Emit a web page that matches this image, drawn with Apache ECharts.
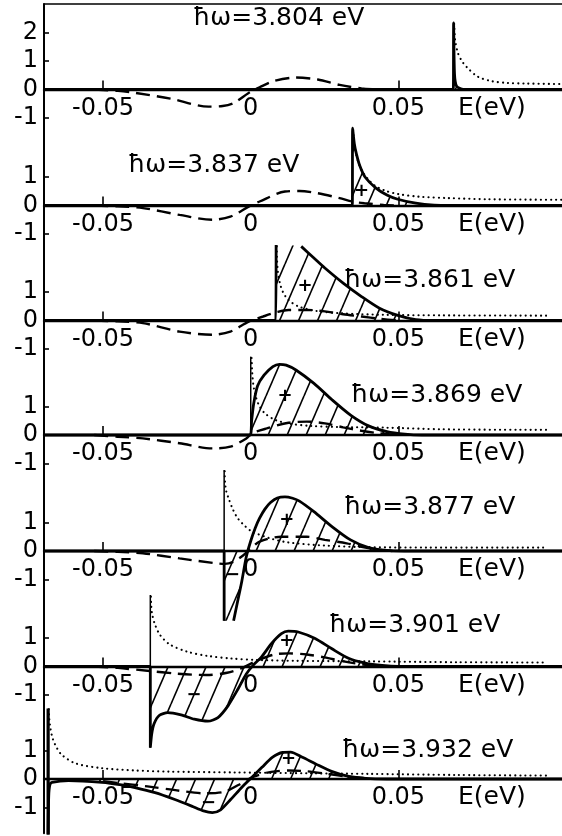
<!DOCTYPE html>
<html>
<head>
<meta charset="utf-8">
<script src="https://cdn.jsdelivr.net/npm/echarts@6/dist/echarts.min.js"></script>
<style>
  html, body { margin: 0; padding: 0; background: #fff; }
  #chart { width: 562px; height: 836px; }
</style>
</head>
<body>
<div id="chart"></div>
<script>
// Photon energies of the seven stacked spectra (top to bottom)
const photonEnergies = ['3.804', '3.837', '3.861', '3.869', '3.877', '3.901', '3.932'];

// Axis tick values
const energyTicks = [-0.05, 0.05];
const energyLabels = [-0.05, 0, 0.05];
const valueTicksTop = [-1, 0, 1, 2];
const valueTicks = [-1, 0, 1];

// Solid curves: [E (eV), value]; null marks a break in the drawn line
const solid1 = [[-0.07,0],[0.0675,0],[0.0686,0],[0.0687,2.34],[0.069,0.55],[0.0697,0.12],[0.072,0],[0.1054,0]];
const solid2 = [[-0.07,0],[0.033,0],[0.0344,0],[0.0345,2.71],[0.0351,2.15],[0.0358,1.8],[0.0369,1.4],[0.0387,1.0],[0.0424,0.61],[0.0461,0.37],[0.0498,0.22],[0.0559,0.08],[0.0621,0.01],[0.068,0],[0.1054,0]];
const solid3 = [[-0.07,0],[0.0072,0],[0.0085,0],[0.0086,2.65],null,[0.0171,2.6],[0.0214,2.19],[0.0251,1.84],[0.0313,1.31],[0.0375,0.84],[0.0436,0.43],[0.0498,0.18],[0.0559,0.03],[0.062,0],[0.1054,0]];
const solid4 = [[-0.07,0],[-0.003,0],[-0.0002,0],[0.0003,0.5],[0.001,1.1],[0.0023,1.72],[0.0045,2.1],[0.0075,2.4],[0.0097,2.48],[0.012,2.45],[0.0153,2.28],[0.0214,1.81],[0.0276,1.23],[0.0338,0.7],[0.0399,0.32],[0.0461,0.12],[0.0522,0.03],[0.058,0],[0.1054,0]];
const solid5 = [[-0.07,0],[-0.0105,0],[-0.009,0],[-0.009,-2.45],null,[-0.0058,-2.45],[-0.0045,-1.8],[-0.003,-1.05],[-0.0015,-0.2],[0,0.35],[0.0015,0.8],[0.003,1.15],[0.0048,1.47],[0.0067,1.7],[0.009,1.86],[0.0116,1.9],[0.0142,1.85],[0.0165,1.75],[0.0214,1.38],[0.0276,0.85],[0.0338,0.39],[0.0399,0.12],[0.0461,0.02],[0.052,0],[0.1054,0]];
const solid6 = [[-0.07,0],[-0.036,0],[-0.034,0],[-0.034,-2.85],[-0.0335,-2.35],[-0.0327,-2.0],[-0.031,-1.72],[-0.0281,-1.62],[-0.0236,-1.7],[-0.0191,-1.85],[-0.0145,-1.92],[-0.0111,-1.79],[-0.0077,-1.38],[-0.0043,-0.79],[-0.0015,-0.26],[0.0008,0.04],[0.0036,0.33],[0.007,0.8],[0.0104,1.15],[0.0127,1.24],[0.0161,1.21],[0.0218,0.98],[0.0275,0.62],[0.0331,0.29],[0.0388,0.12],[0.0445,0.035],[0.05,0],[0.1054,0]];
const solid7 = [[-0.0686,-1.95],[-0.0684,-0.6],[-0.068,-0.2],[-0.0673,-0.12],[-0.0617,-0.06],[-0.0504,-0.12],[-0.0437,-0.21],[-0.0392,-0.3],[-0.0324,-0.48],[-0.0257,-0.72],[-0.02,-0.95],[-0.016,-1.12],[-0.013,-1.18],[-0.0102,-1.08],[-0.0068,-0.72],[-0.003,-0.29],[-0.0002,0],[0.0038,0.41],[0.0073,0.76],[0.0108,0.93],[0.0135,0.94],[0.0175,0.76],[0.022,0.53],[0.0276,0.26],[0.0332,0.09],[0.039,0.02],[0.046,0],[0.1054,0]];

// Dashed curves
const dashed1 = [[-0.053,0],[-0.045,-0.05],[-0.039,-0.12],[-0.0272,-0.32],[-0.0143,-0.6],[-0.0095,-0.58],[-0.0057,-0.47],[-0.0007,-0.12],[0.003,0.08],[0.0079,0.3],[0.0153,0.42],[0.0227,0.35],[0.0301,0.16],[0.0375,0.04],[0.043,0]];
const dashed2 = [[-0.053,0],[-0.045,-0.03],[-0.0365,-0.09],[-0.0241,-0.33],[-0.013,-0.5],[-0.0069,-0.39],[-0.0007,-0.04],[0.003,0.14],[0.0116,0.49],[0.0165,0.51],[0.0227,0.43],[0.0301,0.26],[0.0344,0.14],[0.0385,0.08],[0.045,0.02],[0.05,0]];
const dashed3 = [[-0.053,0],[-0.045,-0.03],[-0.0365,-0.09],[-0.0241,-0.39],[-0.013,-0.5],[-0.0069,-0.39],[-0.0007,-0.04],[0.0042,0.14],[0.0091,0.3],[0.0128,0.37],[0.019,0.37],[0.0251,0.32],[0.0313,0.22],[0.0375,0.14],[0.0436,0.06],[0.05,0]];
const dashed4 = [[-0.053,0],[-0.045,-0.06],[-0.0365,-0.12],[-0.0241,-0.29],[-0.013,-0.47],[-0.0069,-0.41],[-0.0015,-0.12],[0.0005,0.06],[0.0054,0.23],[0.0128,0.43],[0.019,0.47],[0.0251,0.41],[0.0313,0.27],[0.0375,0.15],[0.0436,0.06],[0.05,0]];
const dashed5 = [[-0.053,0],[-0.045,-0.03],[-0.0365,-0.08],[-0.0241,-0.26],[-0.0118,-0.43],[-0.0088,-0.45],[-0.0057,-0.37],[-0.0025,-0.15],[0,0.08],[0.003,0.33],[0.0104,0.5],[0.019,0.5],[0.0251,0.39],[0.0325,0.27],[0.0375,0.15],[0.0424,0.06],[0.048,0]];
const dashed6 = [[-0.053,0],[-0.045,-0.05],[-0.035,-0.15],[-0.025,-0.25],[-0.015,-0.3],[-0.008,-0.22],[-0.003,-0.06],[0.002,0.2],[0.008,0.42],[0.013,0.46],[0.019,0.42],[0.025,0.32],[0.031,0.19],[0.038,0.07],[0.045,0]];
const dashed7 = [[-0.05,-0.08],[-0.045,-0.14],[-0.035,-0.26],[-0.025,-0.4],[-0.016,-0.5],[-0.009,-0.45],[-0.004,-0.2],[0.001,0.08],[0.007,0.25],[0.013,0.3],[0.019,0.27],[0.026,0.18],[0.033,0.08],[0.04,0.02]];

// Dotted curves
const dotted1 = [[0.0689,2.3],[0.0692,1.75],[0.0701,1.3],[0.0715,1.0],[0.0732,0.78],[0.0769,0.45],[0.0817,0.29],[0.0868,0.23],[0.0929,0.21],[0.1054,0.19]];
const dotted2 = [[0.0347,2.65],[0.0349,2.3],[0.0354,1.95],[0.0362,1.6],[0.0375,1.25],[0.0395,0.95],[0.042,0.7],[0.0455,0.52],[0.05,0.4],[0.057,0.31],[0.067,0.26],[0.08,0.22],[0.1054,0.2]];
const dotted3 = [[0.0088,2.6],[0.0089,2.15],[0.0092,1.7],[0.0099,1.3],[0.011,0.98],[0.0128,0.72],[0.016,0.5],[0.022,0.34],[0.031,0.25],[0.045,0.2],[0.065,0.18],[0.1,0.17]];
const dotted4 = [[0.0003,2.7],[0.0005,2.2],[0.0009,1.75],[0.0017,1.35],[0.003,1.0],[0.005,0.74],[0.0085,0.52],[0.013,0.4],[0.02,0.32],[0.03,0.28],[0.045,0.26],[0.065,0.2],[0.1,0.18]];
const dotted5 = [[-0.0088,2.8],[-0.0087,2.4],[-0.0083,2.1],[-0.0075,1.85],[-0.006,1.45],[-0.0044,1.15],[-0.002,0.88],[0.0005,0.68],[0.0067,0.44],[0.0128,0.3],[0.0251,0.19],[0.0375,0.14],[0.06,0.12],[0.099,0.12]];
const dotted6 = [[-0.0338,2.45],[-0.0337,2.15],[-0.0334,1.85],[-0.0325,1.5],[-0.0308,1.12],[-0.0275,0.78],[-0.0215,0.52],[-0.0145,0.37],[-0.0066,0.28],[0.002,0.23],[0.015,0.2],[0.04,0.18],[0.07,0.15],[0.1,0.14]];
const dotted7 = [[-0.0684,2.45],[-0.0682,2.1],[-0.0678,1.76],[-0.067,1.4],[-0.0657,1.1],[-0.064,0.85],[-0.0594,0.55],[-0.0504,0.38],[-0.0392,0.3],[-0.0279,0.26],[-0.0054,0.23],[0.02,0.2],[0.0397,0.18],[0.07,0.14],[0.1,0.12]];

// Threshold edges: [E, top, bottom]
const edges = [null, null, null, [0, 2.75, 0], [-0.009, 2.84, -2.45], [-0.034, 2.51, -2.85], [-0.0686, 2.47, -1.95]];

// Sign marks inside the hatched areas: [E, value, sign]
const signs = [
  [],
  [[0.0375, 0.49, '+']],
  [[0.0184, 1.19, '+']],
  [[0.0116, 1.35, '+']],
  [[0.0122, 1.09, '+'], [-0.0062, -0.85, '−']],
  [[0.0122, 0.88, '+'], [-0.0192, -1.0, '−']],
  [[0.0128, 0.68, '+'], [-0.0143, -0.84, '−']]
];

const solids = [solid1, solid2, solid3, solid4, solid5, solid6, solid7];
const dasheds = [dashed1, dashed2, dashed3, dashed4, dashed5, dashed6, dashed7];
const dotteds = [dotted1, dotted2, dotted3, dotted4, dotted5, dotted6, dotted7];

// Layout
const LEFT = 44;
const UNIT = 28.5;
const zeroY = [89.5, 205.5, 320.5, 435, 551, 666.5, 779];
const yMin = [-2, -2, -2, -2, -2, -2, -1.9];
const Y_MAX = 3;
const X_MIN = -0.07, X_MAX = 0.1054;
const titlePos = [[193, 18], [128, 165], [344, 280], [351, 395], [344, 507], [329, 625], [342, 750]];
const edgeWidth = [1.5, 1.5, 1.5, 1.5, 1.5, 1.5, 3.2];
const FONT = 'DejaVu Sans';
const INK = '#000';

function hatchPattern() {
  const w = 19, h = 44;
  const c = document.createElement('canvas');
  c.width = w; c.height = h;
  const g = c.getContext('2d');
  g.strokeStyle = INK;
  g.lineWidth = 1.6;
  for (const dx of [-w, 0, w]) {
    g.beginPath();
    g.moveTo(dx, h);
    g.lineTo(dx + w, 0);
    g.stroke();
  }
  return c;
}
const hatch = { image: hatchPattern(), repeat: 'repeat' };

function segments(arr) {
  const out = [[]];
  arr.forEach(p => { if (p === null) out.push([]); else out[out.length - 1].push(p); });
  return out.filter(s => s.length);
}

const grids = [], xAxes = [], yAxes = [], series = [];

zeroY.forEach((z, i) => {
  grids.push({ left: LEFT, right: 0, top: z - Y_MAX * UNIT, height: (Y_MAX - yMin[i]) * UNIT });
  // energy axis drawn along the zero line of each spectrum
  xAxes.push({
    type: 'value', gridIndex: i, min: X_MIN, max: X_MAX,
    position: 'bottom', offset: yMin[i] * UNIT,
    axisLine: { show: true, onZero: false, lineStyle: { color: INK, width: 2.4 } },
    axisTick: { show: true, inside: true, length: 9, customValues: energyTicks, lineStyle: { color: INK, width: 1.6 } },
    axisLabel: {
      show: true, customValues: energyLabels, margin: 7, color: INK, fontSize: 24, fontFamily: FONT,
      formatter: v => (v === 0 ? '0' : v.toFixed(2))
    },
    splitLine: { show: false },
    name: 'E(eV)', nameLocation: 'end', nameGap: -104,
    nameTextStyle: { color: INK, fontSize: 25, fontFamily: FONT, align: 'left', verticalAlign: 'top', padding: [6, 0, 0, 0] }
  });
  yAxes.push({
    type: 'value', gridIndex: i, min: yMin[i], max: Y_MAX,
    axisLine: { show: true, onZero: false, lineStyle: { color: INK, width: 2 } },
    axisTick: { show: true, inside: true, length: 5, customValues: i === 0 ? valueTicksTop : valueTicks, lineStyle: { color: INK, width: 1.6 } },
    axisLabel: {
      show: true, customValues: i === 0 ? valueTicksTop : valueTicks, margin: 6, color: INK, fontSize: 24, fontFamily: FONT,
      formatter: v => (v < 0 ? '-' + Math.abs(v) : String(v))
    },
    splitLine: { show: false }
  });

  const common = { xAxisIndex: i, yAxisIndex: i, symbol: 'none', clip: false, silent: true, animation: false };

  // hatched area between the solid curve and zero
  series.push(Object.assign({}, common, {
    type: 'line', smooth: 0.25, z: 1,
    data: solids[i].filter(p => p !== null),
    lineStyle: { width: 0, opacity: 0 },
    areaStyle: { color: hatch, opacity: 1, origin: 0 }
  }));
  // dashed curve
  series.push(Object.assign({}, common, {
    type: 'line', smooth: 0.3, z: 3, data: dasheds[i],
    lineStyle: { color: INK, width: 2.4, type: [14, 7] }
  }));
  // dotted curve
  series.push(Object.assign({}, common, {
    type: 'line', smooth: 0.3, z: 3, data: dotteds[i],
    lineStyle: { color: INK, width: 2.1, type: [0.1, 5], cap: 'round' }
  }));
  // threshold edge
  if (edges[i]) {
    const [e, top, bottom] = edges[i];
    series.push(Object.assign({}, common, {
      type: 'line', z: 3, data: [[e, top], [e, bottom]],
      lineStyle: { color: INK, width: edgeWidth[i] }
    }));
  }
  // solid curve
  segments(solids[i]).forEach(seg => {
    series.push(Object.assign({}, common, {
      type: 'line', smooth: 0.25, z: 4, data: seg,
      lineStyle: { color: INK, width: 2.8 }
    }));
  });
  // sign marks
  if (signs[i].length) {
    series.push(Object.assign({}, common, {
      type: 'scatter', z: 5, symbol: 'circle', symbolSize: 2,
      itemStyle: { color: 'rgba(0,0,0,0)' },
      data: signs[i].map(s => ({ value: [s[0], s[1]], label: { formatter: s[2] } })),
      label: { show: true, position: 'inside', color: INK, opacity: 1, fontSize: 18, fontWeight: 'bold', fontFamily: FONT }
    }));
  }
});

// top frame line above the first spectrum
xAxes.push({
  type: 'value', gridIndex: 0, position: 'top', min: X_MIN, max: X_MAX,
  axisLine: { show: true, onZero: false, lineStyle: { color: INK, width: 1.5 } },
  axisTick: { show: false }, axisLabel: { show: false }, splitLine: { show: false }
});

const titles = photonEnergies.map((e, i) => ({
  type: 'text', x: titlePos[i][0], y: titlePos[i][1], silent: true,
  style: { text: 'ħω=' + e + ' eV', fill: INK, fontSize: 25, fontFamily: FONT, verticalAlign: 'middle' }
}));

const chart = echarts.init(document.getElementById('chart'), null, { renderer: 'canvas' });
chart.setOption({
  animation: false,
  backgroundColor: '#fff',
  grid: grids,
  xAxis: xAxes,
  yAxis: yAxes,
  series: series,
  graphic: titles
});
</script>
</body>
</html>
